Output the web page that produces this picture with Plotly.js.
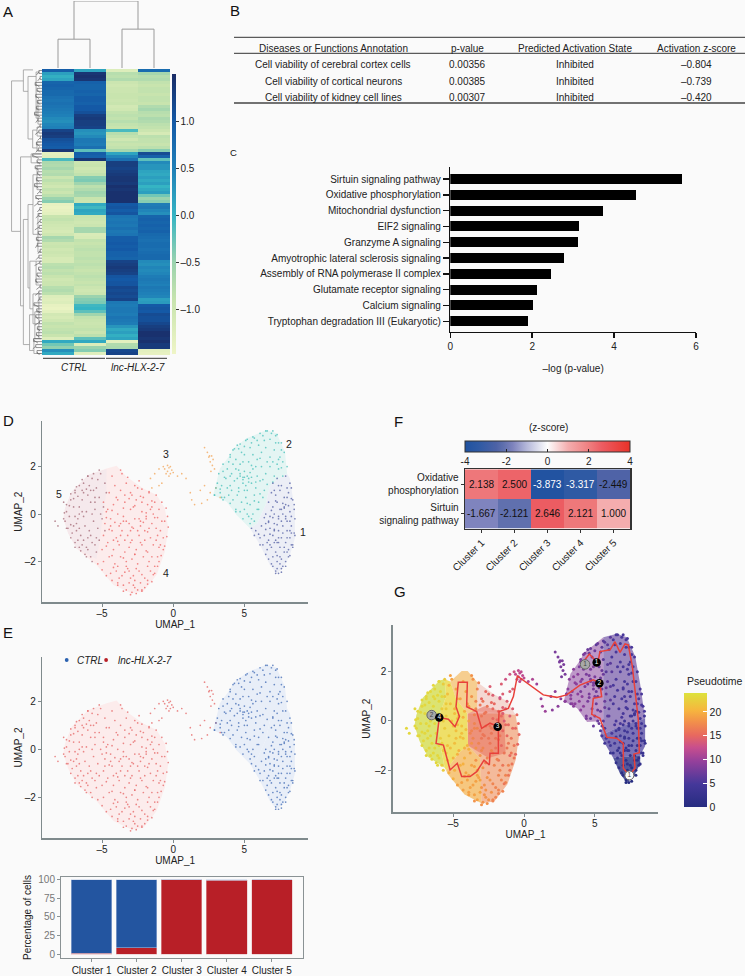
<!DOCTYPE html>
<html>
<head>
<meta charset="utf-8">
<script src="https://cdn.plot.ly/plotly-3.0.1.min.js"></script>
<style>html,body{margin:0;padding:0;background:#fafafa;overflow:hidden}#chart{width:745px;height:976px}</style>
</head>
<body>
<div id="chart"></div>
<script>
// ---------- Panel A data ----------
const ctrl1 = [.95,.2,.05,.15,.85,.9,.85,.8,.8,.7,.65,.7,.65,.6,.55,.5,.4,.35,.45,.5,1.25,1.35,1.3,1.1,1.05,1.0,.95,1.4,-1.3,-1.25,-.1,-.65,-.7,-.6,-.75,-.7,-.95,-.8,-.9,-1.0,-.85,-.95,-.8,-.5,-.4,-1.35,-1.4,-1.35,
 -1.3,-.9,-.85,-.95,-1.0,-1.05,-1.1,-1.0,-.6,-.7,-.95,-.9,-1.0,-.95,-1.0,-1.1,-1.1,-.8,-.75,-.85,-.8,-.9,-1.0,-.95,-.95,-.75,-.7,-.8,-1.2,-1.25,-1.2,-1.35,-1.4,-1.3,-1.05,-1.1,-1.0,-.85,-.9,-.85,-.8,-.9,-1.2,.1,-.3,-.45,.35,.1];
const ctrl2 = [.15,1.4,1.45,1.4,.9,.85,.85,.9,.85,.95,.95,.9,1.0,1.0,1.1,1.3,1.35,1.3,1.3,1.25,.35,.3,.4,.6,.6,.55,.7,-.2,.95,.9,1.4,-.95,-.9,-1.0,-.95,-.85,-.4,-.35,-.55,-.8,-.7,-.55,-.6,-.9,-.95,.1,-.05,.15,
 .1,-.9,-.95,-1.0,-.95,-.6,-.6,-1.15,-1.1,-.85,-.9,-.85,-.8,-.85,-.85,-.8,-.85,-.8,-.85,-.9,-.85,-.8,-.85,-.9,-.85,-.95,-1.0,-.95,-.5,-.4,-.35,-.05,.0,-.2,-.55,-.85,-.9,-.95,-.9,-.85,-.95,-.8,-.2,.1,-1.2,-.5,-.4,-1.25];
const lnc1 = [-1.2,-.75,-.8,-.7,-.95,-1.0,-.95,-.95,-.9,-.9,-.95,-.9,-1.05,-1.0,-.85,-.8,-.85,-.75,-.85,-.9,-.1,-.75,-.85,-1.0,-.85,-.9,-.85,-.6,.15,.45,.7,1.3,1.3,1.25,1.3,1.35,1.4,1.4,1.35,1.45,1.4,1.45,1.45,1.45,1.45,1.0,1.05,.95,
 1.05,.65,.6,.65,.6,.7,.6,.65,.95,.95,1.0,.95,1.0,.9,.9,.85,1.25,1.3,1.35,1.3,1.25,1.05,1.0,1.05,1.05,1.2,1.15,1.2,1.15,1.25,.6,.55,.6,.6,.55,.65,.6,.55,.3,.1,.2,.05,.15,-1.3,-.7,-.65,1.2,1.25];
const lnc2 = [.75,-.6,-.75,-.7,-.85,-.9,-.85,-.85,-.9,-.85,-.85,-.9,-.7,-.6,-.75,-.8,-.65,-.7,-.8,-.85,-.95,-1.1,-.8,-.85,-.85,-.9,-.8,-.4,1.15,.9,-.2,.4,.3,.3,.15,.1,.2,.1,.2,.0,.1,.2,-.3,-.5,-.4,.55,.6,.45,
 .35,.85,.9,.85,.9,.85,.9,.8,.75,.7,.75,.75,.7,.75,.8,.8,.4,.35,.45,.4,.45,.55,.6,.55,.5,.6,.55,.5,.45,.2,.25,1.0,1.05,1.0,1.15,1.1,1.1,1.2,1.3,1.35,1.45,1.45,1.4,1.45,1.35,1.35,-1.3,-1.35];
const heatColumns = [ctrl1, ctrl2, lnc1, lnc2];
const heatTicks = [-1, -0.5, 0, 0.5, 1];
const heatTickText = ['–1.0', '–0.5', '0.0', '0.5', '1.0'];
const heatGroups = ['CTRL', 'lnc-HLX-2-7'];
const topLinks = [[0,1,.43,0,0],[2,3,.58,0,0],[.5,2.5,1,.43,.58]];
const leftLinks = [[.98,3.5,54,.6,.69],[.6,-0.2,7,.29,.45],[.45,2,23,.19,.3],[.19,.5,16,.07,.13],[.13,10,18,.03,.03],[.3,20,26,.16,.16],[.16,19,22,.03,.03],[.16,24,27,.03,.03],
 [.69,29,79,.35,.6],[.35,28,31,.03,.03],[.6,50,92,.45,.4],[.45,45,73,.29,.39],[.29,35,55,.16,.13],[.16,32,40,.03,.03],[.13,48,61,.03,.03],[.39,64,80,.19,.29],[.19,64,72,.03,.03],[.29,75,85,.1,.1],[.1,75,90,.03,.03],[.4,82,94,.23,.26],[.23,81,90,.03,.03],[.26,90,95,.03,.03]];
const leafH = [.1,.18,.06,.14,.22,.08,.16,.05,.2,.1,.15,.06,.18,.09,.24,.07,.13,.2,.06,.16,.1,.22,.05,.14,.18,.07,.12,.2,.3,.1,.16,.06,.22,.1,.14,.05,.18,.08,.24,.12,.06,.16,.2,.09,.13,.25,.07,.15,
 .1,.2,.06,.17,.09,.23,.12,.05,.18,.08,.15,.21,.06,.13,.1,.19,.07,.24,.11,.05,.16,.09,.2,.13,.06,.18,.1,.22,.07,.14,.26,.09,.17,.05,.2,.12,.08,.23,.15,.06,.18,.1,.27,.13,.2,.3,.16,.08];

// ---------- Panel B data ----------
const tableHeader = ['Diseases or Functions Annotation','p-value','Predicted Activation State','Activation z-score'];
const annotationNames = ['Cell viability of cerebral cortex cells','Cell viability of cortical neurons','Cell viability of kidney cell lines'];
const pValues = ['0.00356','0.00385','0.00307'];
const activationStates = ['Inhibited','Inhibited','Inhibited'];
const activationZ = ['–0.804','–0.739','–0.420'];

// ---------- Panel C data ----------
const pathways = ['Sirtuin signaling pathway','Oxidative phosphorylation','Mitochondrial dysfunction','EIF2 signaling','Granzyme A signaling','Amyotrophic lateral sclerosis signaling','Assembly of RNA polymerase II complex','Glutamate receptor signaling','Calcium signaling','Tryptophan degradation III (Eukaryotic)'];
const logP = [5.65,4.53,3.74,3.14,3.12,2.77,2.45,2.12,2.03,1.9];

// ---------- UMAP cells (estimated readings) ----------
const c4x = [-4.9,-4.5,-4.1,-3.7,-3.3,-2.9,-2.5,-2.1,-1.7,-1.3, -4.7,-4.2,-3.9,-3.4,-3.0,-2.6,-2.2,-1.8,-1.4,-1.0, -4.8,-4.4,-3.8,-3.5,-3.1,-2.7,-2.3,-1.9,-1.5,-0.8, -4.9,-4.3,-4.0,-3.6,-3.2,-2.8,-2.4,-2.0,-1.6,-1.2, -5.0,-4.6,-4.2,-3.8,-3.4,-3.0,-2.6,-2.2,-1.8,-1.4, -4.9,-4.5,-4.1,-3.7,-3.3,-2.9,-2.5,-2.1,-1.7,-1.1, -4.4,-4.0,-3.6,-3.2,-2.8,-2.4,-2.0,-1.6,-1.3,-0.7, -3.9,-3.5,-3.1,-2.7,-2.3,-2.0,-1.8,-3.3,-2.9,-2.5, -4.3,-3.6,-3.0,-2.4,-1.9,-1.1,-0.6,-0.9,-3.3,-2.7,
 -3.7,-3.2,-2.7,-2.2,-1.7,-1.2,-0.8,-0.5,-0.4,-0.35, -0.45,-0.6,-0.85,-1.1,-1.4,-1.8,-2.2,-2.6,-3.0,-3.5, -3.9,-4.3,-4.7,-5.0,-5.3,-3.5,-2.9,-2.3,-1.5,-1.0, -4.6,-4.0,-3.4,-2.8,-2.2,-1.6,-4.4,-3.7,-3.0,-2.4,-1.8,-1.2,-4.2,-3.4,-2.7,-2.0,-1.3,-0.9,-3.9,-3.1,
 -4.7,-4.3,-3.9,-3.5,-3.1,-2.7,-2.3,-1.9,-1.5,-1.1, -4.5,-4.1,-3.7,-3.3,-2.9,-2.5,-2.1,-1.7,-1.3,-0.7, -4.7,-4.3,-3.9,-3.5,-3.1,-2.7,-2.3,-1.9,-1.5,-1.0, -4.2,-3.8,-3.4,-3.0,-2.6,-2.2,-1.8,-1.5,-2.8,-2.2];
const c4y = [0.5,0.9,1.2,1.0,1.3,0.8,1.1,0.7,0.9,0.5, 0.1,0.4,0.0,0.5,0.2,0.6,0.1,0.4,0.0,0.2, -0.4,-0.2,-0.5,-0.1,-0.4,-0.2,-0.5,-0.2,-0.4,-0.3, -0.9,-0.7,-1.0,-0.7,-0.9,-0.6,-0.9,-0.7,-1.0,-0.6, -1.5,-1.2,-1.5,-1.3,-1.6,-1.2,-1.5,-1.3,-1.6,-1.3, -2.0,-1.8,-2.1,-1.8,-2.0,-1.9,-2.1,-1.8,-2.0,-1.8, -2.5,-2.4,-2.6,-2.3,-2.6,-2.4,-2.7,-2.4,-2.5,-1.5, -2.9,-3.0,-2.9,-3.1,-2.9,-3.1,-2.8,-3.2,-3.3,-3.2, 1.6,1.7,0.9,1.4,-0.1,-0.9,-0.3,-0.7,-2.2,-2.8,
 1.85,1.55,1.2,1.05,0.95,0.8,0.5,0.25,-0.1,-0.55, -0.95,-1.35,-1.75,-2.2,-2.55,-2.95,-3.2,-3.35,-3.4,-3.25, -3.0,-2.8,-2.6,-2.35,-2.1,-0.3,-1.1,-0.3,0.3,-1.4, 0.2,0.7,0.8,0.3,0.5,0.2,-0.5,-0.4,-0.7,-0.2,-0.75,-1.1,-1.1,-1.1,-1.7,-1.1,-2.2,-1.3,-2.2,-2.4,
 -0.15,0.15,0.6,0.25,0.65,0.35,0.75,0.05,0.55,-0.15, -0.65,-0.35,-0.9,-0.3,-0.55,-0.7,-0.35,-0.6,-0.15,-1.0, -1.35,-1.75,-1.15,-1.85,-1.4,-1.7,-1.2,-1.55,-1.8,-2.0, -2.25,-2.7,-2.45,-2.7,-2.3,-2.55,-2.2,-2.85,-3.0,-3.25];
const c4t = [20,19,19,18,17,16,15,15,14,14, 21,20,19,17,16,16,15,15,14,14, 21,21,17,17,16,16,16,15,15,15, 21,21,20,17,17,16,16,16,15,15, 20,20,20,19,18,17,17,17,16,16, 20,20,19,19,19,18,17,17,17,17, 19,19,19,19,18,18,17,17,17,16, 19,19,19,18,18,17,17,19,18,18, 19,18,15,14,15,16,15,16,19,18,
 18,17,15,14,13,14,14,15,15,15, 15,15,16,16,16,17,17,18,18,18, 19,19,19,20,20,17,17,16,14,15, 20,19,17,16,15,15,21,17,16,16,16,16,20,18,17,16,17,16,19,19,
 21,20,19,17,16,16,15,15,14,15, 21,21,18,17,16,16,16,16,15,16, 20,20,20,19,18,17,17,17,16,16, 19,19,19,18,18,17,17,17,18,17];
const c5x = [-7.5,-7.2,-6.9,-6.6,-6.3,-6.0,-5.7,-5.4,-5.1,-4.8, -7.6,-7.3,-7.0,-6.7,-6.4,-6.1,-5.8,-5.5,-5.2,-4.9, -7.4,-7.1,-6.8,-6.5,-6.2,-5.9,-5.6,-5.3,-5.0,-4.8, -6.9,-6.6,-6.3,-6.0,-5.7,-5.4,-5.2,-6.8,-6.2,-5.8, -6.0,-6.4,-6.6,-5.6,-5.1,-4.7,-6.9,-7.7,-8.3,-8.1,
 -7.65,-7.5,-7.2,-6.8,-6.4,-6.0,-5.6,-5.2,-7.7,-7.5,-7.2,-6.9,-6.5,-6.1,-5.7,-6.3,-5.9,-5.5,-6.6,-7.0,
 -7.3,-7.0,-6.7,-6.4,-6.1,-5.8,-5.5,-5.3,-7.2,-6.9,-6.6,-6.3,-6.0,-5.7,-5.4,-6.7,-6.4,-6.1,-5.8,-5.5];
const c5y = [0.1,0.6,0.9,0.3,1.3,0.8,1.5,1.1,1.7,1.3, -0.3,-0.1,0.3,-0.2,0.6,0.1,0.5,0.2,0.7,0.3, -0.6,-0.8,-0.4,-0.9,-0.5,-0.7,-0.3,-0.6,-0.2,-0.7, -1.2,-1.4,-1.1,-1.5,-1.2,-1.6,-1.1,-0.7,-1.7,-1.8, 1.6,1.0,1.2,1.0,0.0,0.9,1.0,0.5,-0.3,-0.5,
 0.05,0.4,0.85,1.15,1.45,1.6,1.7,1.85,-0.2,-0.6,-1.0,-1.4,-1.55,-1.8,-2.0,0.9,1.2,0.7,0.0,-0.5,
 0.35,0.65,0.75,0.1,1.05,1.0,0.5,1.45,-0.45,-0.1,-0.6,-0.1,-1.0,0.0,-1.0,-1.1,-1.3,-1.4,-0.9,-1.3];
const c5t = [23,23,23,23,23,23,22,21,19,19, 23,23,23,23,23,23,22,22,21,21, 23,23,23,23,23,22,22,22,21,21, 23,23,23,23,22,21,21,23,23,22, 23,23,23,22,21,20,23,23,23,23,
 23,23,23,23,23,23,22,19,23,23,23,23,23,23,22,23,23,22,23,23,
 23,23,23,23,23,23,22,20,23,23,23,23,23,22,21,23,23,23,22,21];
const c3x = [-0.6,-0.4,-0.3,-0.2,-0.1,-0.5,-0.3,-0.4,-0.2,0.0, -1.6,-1.3,-1.0,-0.8,0.3,0.6,0.9,-1.5,-1.0,-0.7, 2.2,2.4,2.55,2.7,2.8,2.6,2.75,2.9,2.65,2.5, 1.3,1.5,1.2,2.2,2.4,2.6,1.9,2.0,3.0,3.3];
const c3y = [1.9,1.8,1.95,1.7,1.85,1.7,1.6,2.05,2.0,1.75, 1.5,1.7,1.9,1.3,1.6,1.7,1.5,1.1,1.2,2.0, 2.8,2.6,2.45,2.45,2.3,2.2,2.05,1.9,1.8,2.4, 0.6,0.4,0.9,1.2,0.6,0.9,1.0,0.45,1.1,0.7];
const c3t = [12,12,12,12,12,12,12,12,12,12, 14,13,13,14,11,11,10,14,14,13, 8,8,8,8,8,8,8,8,8,8, 10,10,10,9,9,9,9,9,8,8];
const c2x = [4.2,4.5,4.8,5.1,5.4,5.7,6.0,6.3,6.6,6.9, 7.2,7.4,7.6,4.0,4.4,4.7,5.0,5.3,5.6,5.9, 6.2,6.5,6.8,7.1,7.4,7.7,3.5,3.8,4.1,4.4, 4.7,5.0,5.3,5.6,5.9,6.2,6.5,6.8,7.1,7.4, 7.7,3.1,3.4,3.7,4.0,4.3,4.6,4.9,5.2,5.5, 5.8,6.1,6.4,2.9,3.3,3.6,3.9,4.2,4.5,4.8, 5.1,5.4,5.7,6.0,6.3,4.4,4.7,5.0,5.3,5.6, 5.9,5.4,5.7,5.2,4.9,5.3,5.1,4.7,5.0,5.5,
 4.0,4.3,4.7,5.2,5.6,6.1,6.5,7.0,7.3,7.6,7.8,8.0,3.2,3.5,3.9,2.9,3.5,4.0,4.4,4.9,
 4.6,5.0,5.5,5.9,6.4,6.8,7.2,7.5,4.2,4.6,4.9,5.5,5.8,6.1,6.6,7.0,7.3,7.6,3.6,4.0, 4.5,4.9,5.4,5.8,6.3,6.6,7.0,3.3,3.8,4.1, 4.6,5.0,5.2,5.7,6.1,6.0,3.0,3.4,5.2,5.5];
const c2y = [2.7,2.9,2.6,3.1,2.8,3.2,2.9,3.3,3.5,3.4, 3.3,3.0,2.7,2.4,2.3,2.1,2.5,2.2,2.5,2.3, 2.6,2.8,2.4,2.7,2.3,2.2,1.8,1.9,1.7,1.9, 1.6,1.8,1.5,1.9,1.6,2.0,1.7,2.0,1.6,1.9, 1.6,1.3,1.2,1.5,1.2,1.4,1.1,1.3,1.0,1.3, 1.1,1.4,1.0,0.8,0.9,0.7,0.8,0.6,0.8,0.5, 0.7,0.4,0.8,0.5,0.7,0.2,0.1,0.2,-0.1,0.0, 0.2,-0.4,-0.3,1.6,1.45,1.35,1.2,1.7,1.55,1.55,
 2.5,2.75,2.95,3.15,3.25,3.4,3.5,3.5,3.35,3.0,2.6,2.0,1.7,2.1,2.2,0.8,0.6,0.45,0.1,-0.2,
 2.75,2.85,3.0,3.1,3.1,3.15,3.0,2.4,2.1,1.85,2.2,2.05,2.0,2.35,2.2,2.2,2.1,1.95,1.55,1.6, 1.5,1.55,1.75,1.35,1.45,1.25,1.35,1.05,1.1,1.0, 0.95,1.0,0.45,0.55,0.85,0.2,1.1,0.7,0.0,-0.2];
const c2t = [8,7,7,6,6,6,6,5,5,5, 5,5,5,8,8,8,7,7,6,6, 5,5,5,5,5,5,9,9,8,8, 8,8,7,7,6,6,5,5,5,5, 5,9,9,9,8,8,8,8,7,7, 7,6,5,9,9,9,9,9,8,8, 7,7,7,6,5,8,7,7,7,6, 6,5,5,8,8,7,7,8,8,7,
 8,8,7,7,6,6,5,5,5,5,5,5,9,9,8,9,9,9,8,7,
 7,7,6,6,5,5,5,5,8,8,8,7,6,6,5,5,5,5,9,9, 8,8,7,7,5,5,5,9,9,9, 8,8,7,7,6,6,9,9,7,6];
const c1x = [7.0,7.3,7.6,7.9,8.2,6.9,7.2,7.5,7.8,8.1, 8.4,6.7,7.0,7.3,7.6,7.9,8.2,8.5,6.5,6.8, 7.1,7.4,7.7,8.0,8.3,6.2,6.5,6.8,7.1,7.4, 7.7,8.0,8.3,8.5,5.8,6.1,6.4,6.7,7.0,7.3, 7.6,7.9,8.2,8.4,6.3,6.6,6.9,7.2,7.5,7.8, 8.1,6.7,7.0,7.3,7.6,7.9,8.1,7.0,7.3,7.6, 7.4,7.2,7.5,7.7,6.6,7.2,7.9,8.2,8.3,8.0,
 8.3,8.5,8.55,8.55,8.4,8.2,7.9,7.6,7.2,6.9,6.5,6.1,5.7,5.5, 7.4,7.8,7.1,6.7,8.0,7.5,
 7.1,7.4,7.7,8.0,8.3,6.9,7.2,7.5,7.8,8.1, 6.4,6.7,7.0,7.3,7.6,7.9,8.2,6.0,6.5,6.8, 7.1,7.4,7.7,8.0,8.3,6.8,7.1,7.4,7.8,7.3];
const c1y = [1.3,1.5,1.2,1.6,1.3,0.9,0.8,1.0,0.7,0.9, 0.6,0.5,0.3,0.5,0.2,0.4,0.1,0.2,0.0,-0.1, 0.0,-0.2,0.0,-0.3,-0.1,-0.5,-0.4,-0.6,-0.4,-0.7, -0.5,-0.7,-0.5,-0.8,-0.7,-1.0,-0.9,-1.1,-0.9,-1.2, -1.0,-1.2,-1.0,-1.3,-1.3,-1.5,-1.4,-1.6,-1.4,-1.6, -1.5,-1.9,-1.8,-2.0,-1.9,-2.0,-1.8,-2.2,-2.3,-2.3, -2.5,-2.5,-2.1,-2.2,-1.2,-1.1,-0.2,-0.7,-1.3,0.7,
 1.1,0.4,-0.2,-0.9,-1.4,-1.75,-2.2,-2.45,-2.4,-2.1,-1.7,-1.3,-0.9,-0.6, -0.1,0.3,-0.7,-0.3,-1.6,-1.8,
 1.0,1.2,0.45,1.1,0.65,0.15,0.55,0.2,0.25,0.35, -0.15,-0.35,-0.15,-0.45,-0.3,-0.1,-0.3,-0.85,-0.65,-0.85, -0.65,-1.0,-0.8,-1.0,-0.8,-1.3,-1.2,-1.2,-1.4,-1.75];
const c1t = [5,5,5,5,5,5,5,5,5,5, 5,5,5,4,4,4,4,4,5,5, 4,4,4,4,4,5,4,4,4,4, 4,3,3,3,5,4,4,3,3,3, 3,3,3,3,3,3,3,2,2,2, 2,2,2,1,1,1,2,1,1,1, 0,0,0,0,3,3,4,3,3,5,
 5,5,4,3,3,2,1,0,0,1,2,3,4,5, 4,4,4,4,2,2,
 5,5,5,5,5,5,5,4,4,4, 5,4,4,4,4,4,4,5,4,4, 3,3,3,3,3,3,3,3,2,2];

// read outlines of the cell clouds (x, y)
const outlineLeft = [[-7.6,.24],[-7.14,.94],[-5.97,1.64],[-4.68,1.92],[-3.98,2.03],[-3.28,1.57],[-2.1,1.08],[-1.17,.8],[-.59,.24],[-.35,-.6],[-.59,-1.59],[-1.17,-2.57],[-2.1,-3.27],[-2.93,-3.34],[-4.2,-2.99],[-5.39,-2.15],[-6.79,-1.45],[-7.38,-.81],[-7.73,-.18]];
const outlineC5 = [[-7.7,-.2],[-7.6,.24],[-7.14,.94],[-5.97,1.64],[-4.68,1.9],[-4.7,.9],[-5,-.3],[-5.2,-1.3],[-5.4,-1.9],[-6.79,-1.45],[-7.38,-.81]];
const outlineC2 = [[2.81,.8],[3.28,1.92],[3.98,2.48],[4.22,2.76],[5.15,3.19],[6.56,3.54],[7.26,3.4],[7.85,2.62],[8.0,1.7],[7.2,1.4],[6.8,1.2],[6.5,.4],[5.9,-.4],[5.39,-.6],[4.45,-.04],[3.75,.52]];
const outlineC1 = [[8.0,1.7],[8.2,1.5],[8.55,.1],[8.55,-1.02],[8.2,-1.73],[7.73,-2.29],[7.26,-2.5],[6.79,-2.15],[6.09,-1.3],[5.39,-.6],[5.9,-.4],[6.5,.4],[6.8,1.2],[7.2,1.4]];
const clusterLabels = ['1','2','3','4','5'];
const clusterLabelX = [9.11,8.1,-.5,-.5,-8];
const clusterLabelY = [-.76,2.95,2.53,-2.48,.84];

// ---------- Panel E bars ----------
const clusters = ['Cluster 1','Cluster 2','Cluster 3','Cluster 4','Cluster 5'];
const pctLnc = [1.5,9,100,99,100];
const pctCtrl = [98.5,91,0,1,0];
const pctTicks = [0,25,50,75,100];

// ---------- Panel F ----------
const fRows = ['Oxidative<br>phosphorylation','Sirtuin<br>signaling pathway'];
const oxphosZ = [2.138,2.5,-3.873,-3.317,-2.449];
const sirtuinZ = [-1.667,-2.121,2.646,2.121,1.0];

// ---------- Panel G ----------
const bandA = [[-7.6,.24],[-7.14,.94],[-5.97,1.64],[-5.6,1.7],[-5.5,1],[-6,.2],[-5.9,-1],[-5.6,-1.9],[-6.79,-1.45],[-7.38,-.81],[-7.73,-.18]];
const bandB = [[-5.6,1.7],[-5.2,1.6],[-4.8,.9],[-4,.3],[-3.95,-1],[-4.6,-1.3],[-5.5,-2],[-5.6,-1.9],[-5.9,-1],[-6,.2],[-5.5,1]];
const bandC1 = [[-5.2,1.6],[-4.4,2.03],[-3.98,2.03],[-3.3,1.57],[-3.3,.4],[-4,.3],[-4.8,.9]];
const bandC2 = [[-5.5,-2],[-4.6,-1.3],[-3.95,-1],[-3.1,-1.5],[-3,-3.34],[-4.2,-2.99],[-5.39,-2.15]];
const bandD = [[-4,.3],[-1.4,.3],[-.59,.24],[-.35,-.6],[-.59,-1.59],[-1.17,-2.57],[-2.1,-3.27],[-3,-3.34],[-3.1,-1.5],[-3.95,-1]];
const bandD2 = [[-3.3,.4],[-3.3,1.57],[-2.1,1.08],[-1.17,.8],[-.59,.24],[-1.4,.3]];
const bandE = [[-3.95,.3],[-2.8,.6],[-1.4,.35],[-1.3,-1.3],[-2.5,-1.5],[-3.95,-1]];
const bandR1 = [[2.81,.8],[3.28,1.92],[3.98,2.48],[4.22,2.76],[5.15,3.19],[5.6,3.4],[5.6,0],[4.45,-.04],[3.75,.52]];
const bandR2 = [[5.6,3.4],[6.56,3.54],[7.26,3.4],[7.85,2.62],[8.2,1.5],[8.55,.1],[6.5,-.3],[5.39,-.6],[5.6,0]];
const bandR3 = [[5.39,-.6],[6.5,-.3],[8.55,.1],[8.55,-1.02],[8.2,-1.4],[6.3,-1.5]];
const bandR4 = [[6.3,-1.5],[8.2,-1.4],[8.2,-1.73],[7.73,-2.29],[7.26,-2.5],[6.79,-2.15]];
const trajMainX = [7.44,7.84,7.76,8.14,8.07,7.72,7.65,7.36,7.13,6.78,6.42,6.07,5.36,5.25,5.13,4.89,4.61,4.31,4.31];
const trajMainY = [-2.21,-1.92,-1.34,-1.29,.04,1.67,2.21,3.09,3.13,2.79,3.22,2.89,2.82,2.48,2.38,2.55,2.72,2.5,2.3];
const trajBranchX = [7.44,7.01,7.01,6.54,5.84,5.36,4.78,4.89,5.48,5.36,4.89,3.95,3.01,2.31,1.36,.42,-.47,-.75,-1.11,-1.76,-1.81,-1.81,-2.4,-2.45,-2.82,-3.34,-3.81,-4.4,-4.71,-5.22,-5.69,-6.21,-5.98,-5.34,-4.87,-4.56,-4.8,-4.64,-4,-4.05,-3.34,-2.99,-2.4,-1.81];
const trajBranchY = [-2.21,-1.92,-.91,-.7,-.66,.11,.27,.92,.99,1.53,1.67,1.46,1.06,.96,1.06,1.46,1.83,.99,.51,.38,-.23,-1.31,-1.31,-1.79,-1.59,-2.06,-2.26,-2.26,-1.72,-1.99,-.98,-.91,.14,.07,-.23,.18,.58,1.57,1.57,.58,.38,-.3,-.09,-.23];
const nodeBlackX = [5.13,5.32,-1.86,-5.98], nodeBlackY = [2.38,1.53,-.23,.14], nodeBlackText = ['1','2','3','4'];
const nodeGreyX = [4.31,-6.52], nodeGreyY = [2.3,.24], nodeGreyText = ['1','2'];
const nodeWhiteX = [7.44], nodeWhiteY = [-2.21], nodeWhiteText = ['1'];
const pseudoTicks = [0,5,10,15,20];

// ---------- helpers ----------
const FONT = 'Liberation Sans, Arial, sans-serif';
const W = 745, H = 976;
const dx = (a,b) => [a/W, b/W];
const dy = (top,bot) => [1-bot/H, 1-top/H];
const ax = v => v.map(p => p[0]);
const ay = v => v.map(p => p[1]);
const traces = [], annotations = [], shapes = [];
const txt = (x,y,text,size=10,anchor='center',color='#222') => annotations.push({xref:'paper',yref:'paper',x:x/W,y:1-y/H,text,showarrow:false,xanchor:anchor,yanchor:'middle',align:anchor,font:{family:FONT,size,color}});
const hline = (x0,x1,y,w,c) => shapes.push({type:'line',xref:'paper',yref:'paper',x0:x0/W,x1:x1/W,y0:1-y/H,y1:1-y/H,line:{width:w,color:c}});

// ---------- Panel A ----------
const nRows = ctrl1.length;
const rowIdx = ctrl1.map((_,i)=>i);
traces.push({type:'heatmap',xaxis:'x',yaxis:'y',x:[0,1,2,3],y:rowIdx,z:rowIdx.map(i=>heatColumns.map(c=>c[i])),zmin:-1.47,zmax:1.51,
 colorscale:[[0,'#eff5c6'],[.19,'#c8e4ae'],[.325,'#9bd3ae'],[.493,'#35b4c3'],[.66,'#1f80b8'],[.829,'#1459a6'],[1,'#1a2c66']],
 hoverinfo:'skip',
 colorbar:{x:172/W,xanchor:'left',y:1-354/H,yanchor:'bottom',len:280/H,lenmode:'fraction',thickness:3.5,thicknessmode:'pixels',xpad:0,ypad:0,outlinewidth:0,tickvals:heatTicks,ticktext:heatTickText,ticks:'outside',ticklen:3,tickwidth:1,tickcolor:'#333',tickfont:{family:FONT,size:10,color:'#222'}}});
const linkX=[],linkY=[];
topLinks.forEach(l=>{linkX.push(l[0],l[0],l[1],l[1],null);linkY.push(l[3],l[2],l[2],l[4],null);});
traces.push({type:'scatter',mode:'lines',xaxis:'x2',yaxis:'y2',x:linkX,y:linkY,line:{color:'#9a9a9a',width:1},hoverinfo:'skip'});
const lX=[],lY=[];
leftLinks.forEach(l=>{lX.push(l[3],l[0],l[0],l[4],null);lY.push(l[1],l[1],l[2],l[2],null);});
traces.push({type:'scatter',mode:'lines',xaxis:'x3',yaxis:'y3',x:lX,y:lY,line:{color:'#9a9a9a',width:.8},hoverinfo:'skip'});
const fX=[],fY=[];
for(let i=0;i+1<nRows;i+=2){fX.push(0,leafH[i],leafH[i],0,null);fY.push(i,i,i+1,i+1,null);fX.push(leafH[i],leafH[i+1],null);fY.push(i+.5,i+1.5,null);}
traces.push({type:'scatter',mode:'lines',xaxis:'x3',yaxis:'y3',x:fX,y:fY,line:{color:'#666',width:.7},hoverinfo:'skip'});
hline(43,105,358.3,1,'#333');hline(106,167,358.3,1,'#333');
txt(74,367,'<i>'+heatGroups[0]+'</i>',10);txt(138,367,'<i>'+heatGroups[1]+'</i>',10);

// ---------- Panel B ----------
hline(234,745,37.3,1,'#333');hline(234,745,53.3,1,'#333');hline(234,745,103,1.5,'#444');
const colX=[333,467.3,575,696.7], rowY=[64.7,81.3,97.7];
tableHeader.forEach((t,i)=>txt(colX[i],48.3,t,10));
[annotationNames,pValues,activationStates,activationZ].forEach((col,i)=>col.forEach((t,j)=>txt(colX[i],rowY[j],t,10)));

// ---------- Panel C ----------
traces.push({type:'bar',orientation:'h',xaxis:'x4',yaxis:'y4',x:logP,y:pathways,marker:{color:'#000'},width:.63,hoverinfo:'skip'});

// ---------- Panels D / E ----------
const poly = (v,color,xa,ya,op=1)=>traces.push({type:'scatter',mode:'lines',x:ax(v).concat(v[0][0]),y:ay(v).concat(v[0][1]),fill:'toself',fillcolor:color,line:{width:0},opacity:op,xaxis:xa,yaxis:ya,hoverinfo:'skip'});
const pts = (x,y,color,xa,ya,size=1.7,op=.8)=>traces.push({type:'scatter',mode:'markers',x,y,marker:{color,size,opacity:op,line:{width:0}},xaxis:xa,yaxis:ya,hoverinfo:'skip'});
poly(outlineLeft,'#fcecec','x5','y5');poly(outlineC5,'#f5e9ec','x5','y5');poly(outlineC2,'#e4f5f3','x5','y5');poly(outlineC1,'#eceef6','x5','y5');
pts(c4x,c4y,'#ee6b6b','x5','y5');pts(c5x,c5y,'#a86f7c','x5','y5');pts(c3x,c3y,'#f3a95f','x5','y5');pts(c2x,c2y,'#4fc3bd','x5','y5');pts(c1x,c1y,'#5a65a8','x5','y5');
clusterLabels.forEach((t,i)=>annotations.push({xref:'x5',yref:'y5',x:clusterLabelX[i],y:clusterLabelY[i],text:t,showarrow:false,font:{family:FONT,size:10.5,color:'#222'}}));
poly(outlineLeft,'#fcecec','x6','y6');poly(outlineC2,'#e8eef8','x6','y6');poly(outlineC1,'#e8eef8','x6','y6');
const eRed='#e66b6b',eBlue='#4a72b8';
pts(c4x,c4y,eRed,'x6','y6');pts(c5x,c5y,eRed,'x6','y6');pts(c3x,c3y,eRed,'x6','y6');pts(c2x,c2y,eBlue,'x6','y6');pts(c1x,c1y,eBlue,'x6','y6');
shapes.push({type:'circle',xref:'paper',yref:'paper',x0:64.8/W,x1:68.6/W,y0:1-661.9/H,y1:1-658.1/H,fillcolor:'#2b62b0',line:{width:0}});
shapes.push({type:'circle',xref:'paper',yref:'paper',x0:104.2/W,x1:108/W,y0:1-661.9/H,y1:1-658.1/H,fillcolor:'#b81f27',line:{width:0}});
txt(75,660.5,'<i>CTRL</i>',10,'left');txt(116,660.5,'<i>lnc-HLX-2-7</i>',10,'left');

// ---------- Panel E bars ----------
traces.push({type:'bar',xaxis:'x7',yaxis:'y7',x:clusters,y:pctLnc,marker:{color:'#b81f27',line:{color:'#e6b5ba',width:.5}},width:.9,hoverinfo:'skip'});
traces.push({type:'bar',xaxis:'x7',yaxis:'y7',x:clusters,y:pctCtrl,marker:{color:'#2355a0',line:{color:'#bcc9e4',width:.5}},width:.9,hoverinfo:'skip'});

// ---------- Panel F ----------
const fScale=[[0,'#1f52a0'],[.085,'#2f5aa4'],[.19,'#4d62a6'],[.235,'#6070ae'],[.29,'#7e83bd'],[.375,'#b5b8da'],[.5,'#fdfdfd'],[.625,'#f4adae'],[.75,'#ef7f80'],[.83,'#ec5c62'],[1,'#e93228']];
traces.push({type:'heatmap',xaxis:'x8',yaxis:'y8',x:clusters,y:[0,1],z:[oxphosZ,sirtuinZ],zmin:-4,zmax:4,colorscale:fScale,hoverinfo:'skip',
 colorbar:{orientation:'h',x:465/W,xanchor:'left',y:1-471.4/H,yanchor:'bottom',len:165.3/W,lenmode:'fraction',thickness:11.4,thicknessmode:'pixels',xpad:0,ypad:0,outlinecolor:'#333',outlinewidth:1,tickvals:[-4,-2,0,2,4],ticktext:['-4','-2','0','2','4'],ticks:'inside',ticklen:3,tickcolor:'#222',tickfont:{family:FONT,size:10,color:'#222'}}});
[oxphosZ,sirtuinZ].forEach((row,j)=>row.forEach((v,i)=>annotations.push({xref:'x8',yref:'y8',x:clusters[i],y:j,text:v.toFixed(3),showarrow:false,font:{family:FONT,size:10,color:v<-3?'#fff':'#111'}})));
txt(548,427.7,'(z-score)',10);

// ---------- Panel G ----------
const gPoly=(v,c,op)=>poly(v,c,'x9','y9',op);
gPoly(bandA,'#d4dd50',.8);gPoly(bandB,'#ecd844',.8);gPoly(bandC1,'#f4b04a',.6);gPoly(bandC2,'#f4b04a',.7);gPoly(bandD,'#f0905c',.6);gPoly(bandD2,'#e88a78',.3);gPoly(bandE,'#e8705f',.55);
gPoly(bandR1,'#8a479f',.55);gPoly(bandR2,'#5d3c9a',.6);gPoly(bandR3,'#45389a',.7);gPoly(bandR4,'#2a2f85',.8);
const pScale=[[0,'#262c80'],[.2,'#45389a'],[.4,'#94409b'],[.52,'#c74e8e'],[.63,'#e8695f'],[.75,'#f2914a'],[.85,'#f6b63e'],[1,'#dde23c']];
traces.push({type:'scatter',mode:'markers',xaxis:'x9',yaxis:'y9',x:[...c4x,...c5x,...c3x,...c2x,...c1x],y:[...c4y,...c5y,...c3y,...c2y,...c1y],hoverinfo:'skip',
 marker:{size:3,color:[...c4t,...c5t,...c3t,...c2t,...c1t],cmin:0,cmax:23.9,colorscale:pScale,line:{width:0},
 colorbar:{x:684/W,xanchor:'left',y:1-807.3/H,yanchor:'bottom',len:114/H,lenmode:'fraction',thickness:22.7,thicknessmode:'pixels',xpad:0,ypad:0,outlinewidth:0,tickvals:pseudoTicks,ticks:'inside',ticklen:4,tickcolor:'#fff',tickfont:{family:FONT,size:10.5,color:'#222'}}}});
const traj=(x,y)=>traces.push({type:'scatter',mode:'lines',x,y,xaxis:'x9',yaxis:'y9',line:{color:'#e8403a',width:1.5},hoverinfo:'skip'});
traj(trajMainX,trajMainY);traj(trajBranchX,trajBranchY);
const node=(x,y,t,fill,tc,size)=>traces.push({type:'scatter',mode:'markers+text',x,y,text:t,textposition:'middle center',textfont:{family:FONT,size:6.5,color:tc},marker:{color:fill,size,line:{color:tc==='#fff'?'#000':'#666',width:tc==='#fff'?0:1}},xaxis:'x9',yaxis:'y9',hoverinfo:'skip'});
node(nodeGreyX,nodeGreyY,nodeGreyText,'#a8aaa8','#444',9.5);
node(nodeBlackX,nodeBlackY,nodeBlackText,'#000','#fff',8.5);
node(nodeWhiteX,nodeWhiteY,nodeWhiteText,'#fafafa','#444',9);
txt(685,681,'Pseudotime',10.5,'left');

// panel letters
txt(1,12,'A',15,'left','#111');txt(228,11,'B',15,'left','#111');txt(228,153,'C',9.5,'left','#111');txt(1,420,'D',15,'left','#111');txt(1,632,'E',15,'left','#111');txt(392,421,'F',15,'left','#111');txt(392,591,'G',15,'left','#111');

// ---------- axes ----------
const hidden=(domain,range,extra={})=>Object.assign({domain,range,visible:false,fixedrange:true},extra);
const umap=(domain,range,tickvals,ticktext,title,standoff=0,extra={})=>Object.assign({domain,range,tickvals,ticktext,showline:true,linecolor:'#7f8a8c',linewidth:1.5,ticks:'outside',ticklen:3,tickcolor:'#7f8a8c',showgrid:false,zeroline:false,tickfont:{family:FONT,size:10,color:'#222'},title:{text:title,font:{family:FONT,size:10,color:'#222'},standoff}},extra);
const layout={width:W,height:H,margin:{l:0,r:0,t:0,b:0,autoexpand:false},paper_bgcolor:'#fafafa',plot_bgcolor:'rgba(0,0,0,0)',showlegend:false,hovermode:false,barmode:'stack',bargap:.1,font:{family:FONT,color:'#222'},annotations,shapes,
 xaxis:hidden(dx(42,170),[-.5,3.5]),yaxis:hidden(dy(69,355),[nRows-.5,-.5]),
 xaxis2:hidden(dx(42,170),[-.5,3.5]),yaxis2:hidden(dy(1,68),[0,1]),
 xaxis3:hidden(dx(10,42),[1.03,0]),yaxis3:hidden(dy(69,355),[nRows-.5,-.5]),
 xaxis4:{domain:dx(450.3,696),range:[0,6],tickvals:[0,2,4,6],showline:true,linecolor:'#111',linewidth:1.5,ticks:'outside',ticklen:5,tickwidth:1.5,tickcolor:'#111',showgrid:false,zeroline:false,tickfont:{family:FONT,size:10,color:'#222'},title:{text:'–log (p-value)',font:{family:FONT,size:10,color:'#222'},standoff:14}},
 yaxis4:{domain:dy(166.7,331.7),range:[9.66,-.78],type:'category',showline:true,linecolor:'#111',linewidth:1.5,ticks:'outside',ticklen:6,tickwidth:1.5,tickcolor:'#111',showgrid:false,zeroline:false,tickfont:{family:FONT,size:10,color:'#222'}},
 xaxis5:umap(dx(42.3,308),[-9.2,9.47],[-5,0,5],['–5','0','5'],'UMAP_1',0,{ticklabelstandoff:-2}),
 yaxis5:umap(dy(421,602.3),[-3.72,3.92],[-2,0,2],['–2','0','2'],'UMAP_2'),
 xaxis6:umap(dx(42.3,308),[-9.2,9.47],[-5,0,5],['–5','0','5'],'UMAP_1',0,{ticklabelstandoff:-2}),
 yaxis6:umap(dy(656.7,838.3),[-3.71,3.86],[-2,0,2],['–2','0','2'],'UMAP_2'),
 xaxis7:{domain:dx(61,303.3),range:[-.68,4.7],type:'category',showline:true,mirror:true,linecolor:'#8a9294',linewidth:1,ticks:'outside',ticklen:3,tickcolor:'#8a9294',showgrid:false,zeroline:false,tickfont:{family:FONT,size:10,color:'#222'}},
 yaxis7:{domain:dy(876.7,958.3),range:[-5.4,104],tickvals:pctTicks,showline:true,mirror:true,linecolor:'#8a9294',linewidth:1,ticks:'outside',ticklen:3,tickcolor:'#8a9294',showgrid:false,zeroline:false,tickfont:{family:FONT,size:10,color:'#777'},title:{text:'Percentage of cells',font:{family:FONT,size:10,color:'#222'},standoff:4}},
 xaxis8:{domain:dx(465,630.3),type:'category',showline:true,mirror:true,linecolor:'#333',linewidth:1.3,ticks:'outside',ticklen:3,tickcolor:'#333',tickangle:-45,showgrid:false,zeroline:false,tickfont:{family:FONT,size:10,color:'#222'}},
 yaxis8:{domain:dy(469.3,528.7),range:[1.5,-.5],tickvals:[0,1],ticktext:fRows,showline:true,mirror:true,linecolor:'#333',linewidth:1.3,ticks:'outside',ticklen:3,tickcolor:'#333',showgrid:false,zeroline:false,tickfont:{family:FONT,size:10,color:'#222'}},
 xaxis9:umap(dx(392.7,658.3),[-9.27,9.48],[-5,0,5],['–5','0','5'],'UMAP_1',0,{ticklabelstandoff:-2}),
 yaxis9:umap(dy(625,812.3),[-3.71,3.9],[-2,0,2],['–2','0','2'],'UMAP_2',2)
};
for(let n=1;n<=9;n++){const s=n===1?'':n;layout['xaxis'+s].anchor='y'+s;layout['yaxis'+s].anchor='x'+s;}
Plotly.newPlot('chart',traces,layout,{staticPlot:true,displayModeBar:false});
</script>
</body>
</html>
